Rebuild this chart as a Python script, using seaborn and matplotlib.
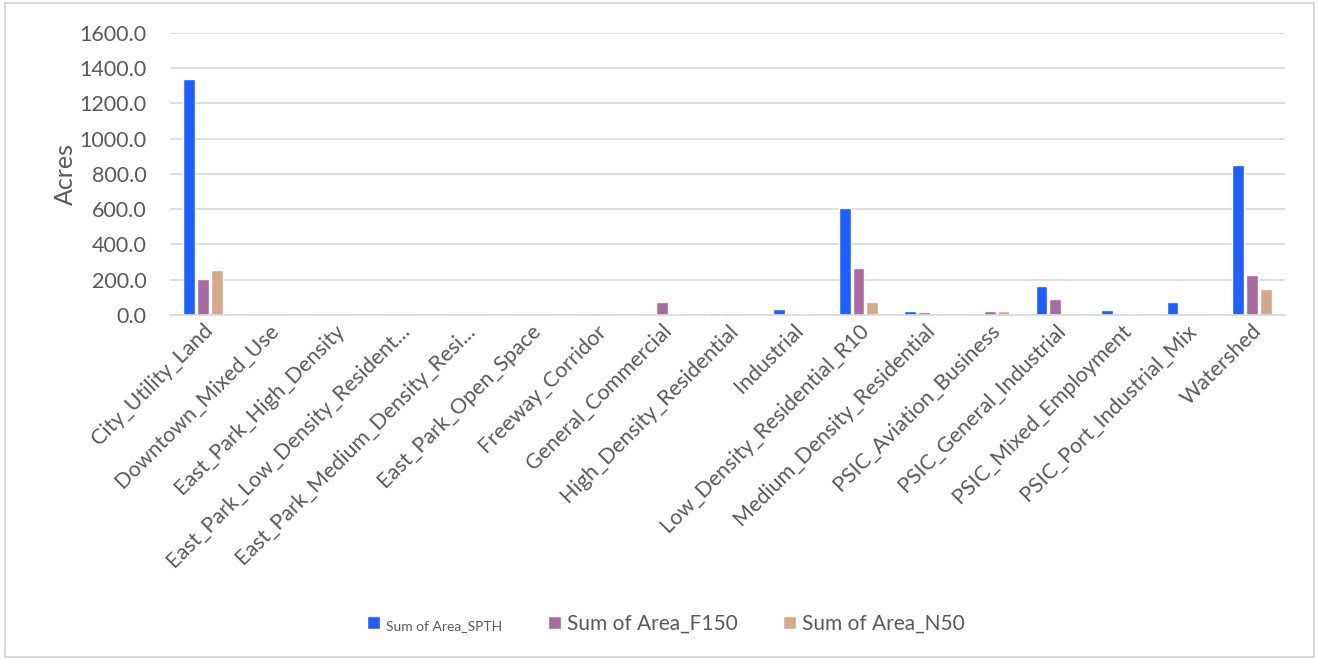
import pandas as pd
import matplotlib.pyplot as plt
import seaborn as sns
from matplotlib.patches import Rectangle

# zoning categories (x axis)
categories = [
    "City_Utility_Land", "Downtown_Mixed_Use", "East_Park_High_Density",
    "East_Park_Low_Density_Resident...", "East_Park_Medium_Density_Resi...",
    "East_Park_Open_Space", "Freeway_Corridor", "General_Commercial",
    "High_Density_Residential", "Industrial", "Low_Density_Residential_R10",
    "Medium_Density_Residential", "PSIC_Aviation_Business",
    "PSIC_General_Industrial", "PSIC_Mixed_Employment",
    "PSIC_Port_Industrial_Mix", "Watershed",
]
series_names = ["Sum of Area_SPTH", "Sum of Area_F150", "Sum of Area_N50"]

spth = [1338, 0, 0, 0, 0, 0, 7, 0, 8, 32, 605, 21, 0, 164, 25, 72, 851]
f150 = [205, 0, 0, 0, 0, 0, 9, 70, 8, 0, 263, 15, 19, 91, 0, 0, 228]
n50 = [253, 0, 0, 0, 0, 0, 0, 2, 0, 2, 72, 0, 19, 9, 3, 9, 145]

colors = ["#1f5fff", "#a86ba0", "#d4a98a"]

df = pd.DataFrame({"category": categories * 3,
                   "series": sum([[s] * len(categories) for s in series_names], []),
                   "acres": spth + f150 + n50})

sns.set_style("white")
plt.rcParams["font.family"] = ["Lato", "DejaVu Sans"]
text_color = "#595959"

fig = plt.figure(figsize=(13.19, 6.60), dpi=100)
ax = fig.add_axes([0.129, 0.523, 0.845, 0.427])

sns.barplot(data=df, x="category", y="acres", hue="series", palette=colors,
            width=0.63, gap=0.15, saturation=1, ax=ax, legend=True)

ax.set_ylim(0, 1600)
ax.set_yticks(range(0, 1601, 200))
ax.set_yticklabels([f"{v:.1f}" for v in range(0, 1601, 200)], fontsize=15.5, color=text_color)
ax.yaxis.grid(True, color="#d9d9d9", linewidth=1.2)
ax.set_axisbelow(True)
ax.tick_params(axis="y", length=0, pad=17)
ax.tick_params(axis="x", length=0, pad=4)
ax.set_xticks(range(len(categories)))
ax.set_xticklabels(categories, rotation=45, ha="right", rotation_mode="anchor",
                   fontsize=15.5, color=text_color)
ax.set_xlabel("")
ax.set_ylabel("Acres", fontsize=18, color=text_color, labelpad=2)
for side in ["top", "right", "left"]:
    ax.spines[side].set_visible(False)
ax.spines["bottom"].set_color("#d9d9d9")
ax.spines["bottom"].set_linewidth(1.2)
ax.set_xlim(-0.5, len(categories) - 0.5)

handles, labels = ax.get_legend_handles_labels()
ax.legend_.remove()
leg = fig.legend(handles, labels, loc="center", bbox_to_anchor=(0.505, 0.055), ncol=3,
                 frameon=False, handlelength=0.6, handleheight=0.6, handletextpad=0.3,
                 columnspacing=2.2, fontsize=15)
for t in leg.get_texts():
    t.set_color(text_color)
leg.get_texts()[0].set_fontsize(10)

# chart border
fig.patches.append(Rectangle((0.004, 0.004), 0.992, 0.992, transform=fig.transFigure,
                             fill=False, edgecolor="#d9d9d9", linewidth=1.5))

fig.savefig("out.png", dpi=100)
